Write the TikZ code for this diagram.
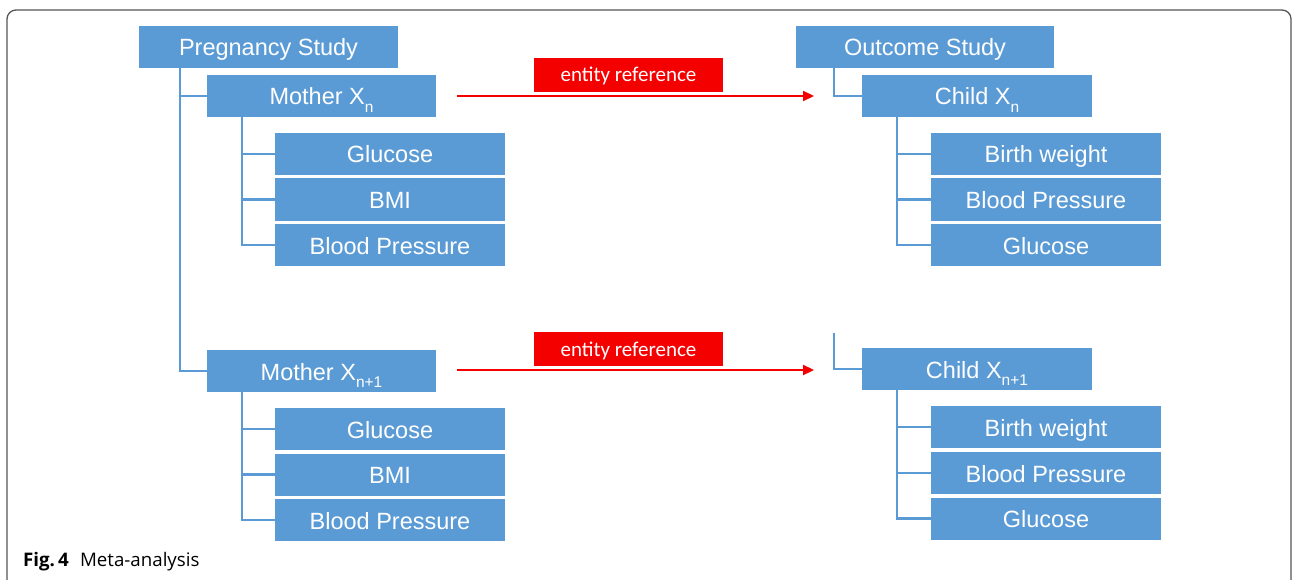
\documentclass[tikz,border=0pt]{standalone}
\usepackage{fontspec}
\setmainfont{Liberation Sans}
\newfontfamily\capfont{Open Sans}
\newfontfamily\calfont{Carlito}
\usetikzlibrary{arrows.meta}
\definecolor{boxblue}{HTML}{5B9BD5}
\definecolor{refred}{HTML}{F50000}
\definecolor{framegray}{HTML}{555555}
\newcommand\lowsub[1]{\raisebox{-0.3em}{\fontsize{15.5}{15}\selectfont #1}}
\begin{document}
\begin{tikzpicture}[x=1pt,y=-1pt,
  box/.style={fill=boxblue, text=white, inner sep=0pt, outer sep=0pt,
    minimum height=42pt, text height=18pt, text depth=0pt,
    font=\fontsize{23.5}{26}\selectfont},
  topbox/.style={box, minimum width=259pt},
  midbox/.style={box, minimum width=229pt},
  leafbox/.style={box, minimum width=230pt},
  conn/.style={draw=boxblue, line width=2.2pt},
  refarrow/.style={draw=refred, line width=2.2pt, -{Triangle[length=11pt,width=10pt]}},
  reflabel/.style={fill=refred, text=white, inner sep=0pt, minimum width=189pt,
    minimum height=34pt, text height=14pt, text depth=0pt,
    font=\calfont\fontsize{21}{22}\selectfont}]
\useasboundingbox (0,0) rectangle (1292,580);
% frame
\draw[framegray, line width=1.3pt, rounded corners=9pt] (7,588) -- (7,10) -- (1291,10) -- (1291,588);

% left tree (upper)
\node[topbox] (ps) at (268.5,47) {Pregnancy Study};
\node[midbox] (mxn) at (321.5,96) {Mother X\lowsub{n}};
\node[leafbox] (g1) at (390,154) {Glucose};
\node[leafbox] (b1) at (390,199.5) {BMI};
\node[leafbox] (bp1) at (390,245) {Blood Pressure};
% left tree (lower)
\node[midbox] (mxn1) at (321.5,371) {Mother X\lowsub{n+1}};
\node[leafbox] (g2) at (390,429) {Glucose};
\node[leafbox] (b2) at (390,474.5) {BMI};
\node[leafbox] (bp2) at (390,520) {Blood Pressure};

% right tree (upper)
\node[topbox, minimum width=258pt] (os) at (925,47) {Outcome Study};
\node[midbox, minimum width=230pt] (cxn) at (977,96) {Child X\lowsub{n}};
\node[leafbox] (bw1) at (1046,154) {Birth weight};
\node[leafbox] (bpr1) at (1046,199.5) {Blood Pressure};
\node[leafbox] (gr1) at (1046,245) {Glucose};
% right tree (lower)
\node[midbox, minimum width=230pt] (cxn1) at (977,369) {Child X\lowsub{n+1}};
\node[leafbox] (bw2) at (1046,427) {Birth weight};
\node[leafbox] (bpr2) at (1046,473) {Blood Pressure};
\node[leafbox] (gr2) at (1046,518.5) {Glucose};

% connectors left
\draw[conn] ([xshift=41pt]ps.south west) |- (mxn1.west);
\draw[conn] ([xshift=41pt]ps.south west) |- (mxn.west);
\draw[conn] ([xshift=35pt]mxn.south west) |- (bp1.west);
\draw[conn] ([xshift=35pt]mxn.south west) |- (b1.west);
\draw[conn] ([xshift=35pt]mxn.south west) |- (g1.west);
\draw[conn] ([xshift=35pt]mxn1.south west) |- (bp2.west);
\draw[conn] ([xshift=35pt]mxn1.south west) |- (b2.west);
\draw[conn] ([xshift=35pt]mxn1.south west) |- (g2.west);

% connectors right
\draw[conn] ([xshift=38pt]os.south west) |- (cxn.west);
\coordinate (stub) at (834,333);
\draw[conn] (stub) |- (cxn1.west);
\draw[conn] ([xshift=35pt]cxn.south west) |- (gr1.west);
\draw[conn] ([xshift=35pt]cxn.south west) |- (bpr1.west);
\draw[conn] ([xshift=35pt]cxn.south west) |- (bw1.west);
\draw[conn] ([xshift=35pt]cxn1.south west) |- (gr2.west);
\draw[conn] ([xshift=35pt]cxn1.south west) |- (bpr2.west);
\draw[conn] ([xshift=35pt]cxn1.south west) |- (bw2.west);

% entity references
\draw[refarrow] ([xshift=21pt]mxn.east) -- ([xshift=-48pt]cxn.west);
\node[reflabel] (er1) at (628.5,75) {entity reference};
\coordinate (a2e) at (814,370);
\draw[refarrow] ([xshift=21pt]mxn1.east |- a2e) -- (a2e);
\node[reflabel] (er2) at (628.5,349) {entity reference};

% caption
\node[anchor=base west, inner sep=0pt, font=\capfont\fontsize{18.7}{21}\selectfont] (cap) at (23,566)
  {\textbf{Fig.\,4}\hspace{0.6em}Meta-analysis};
\end{tikzpicture}
\end{document}
